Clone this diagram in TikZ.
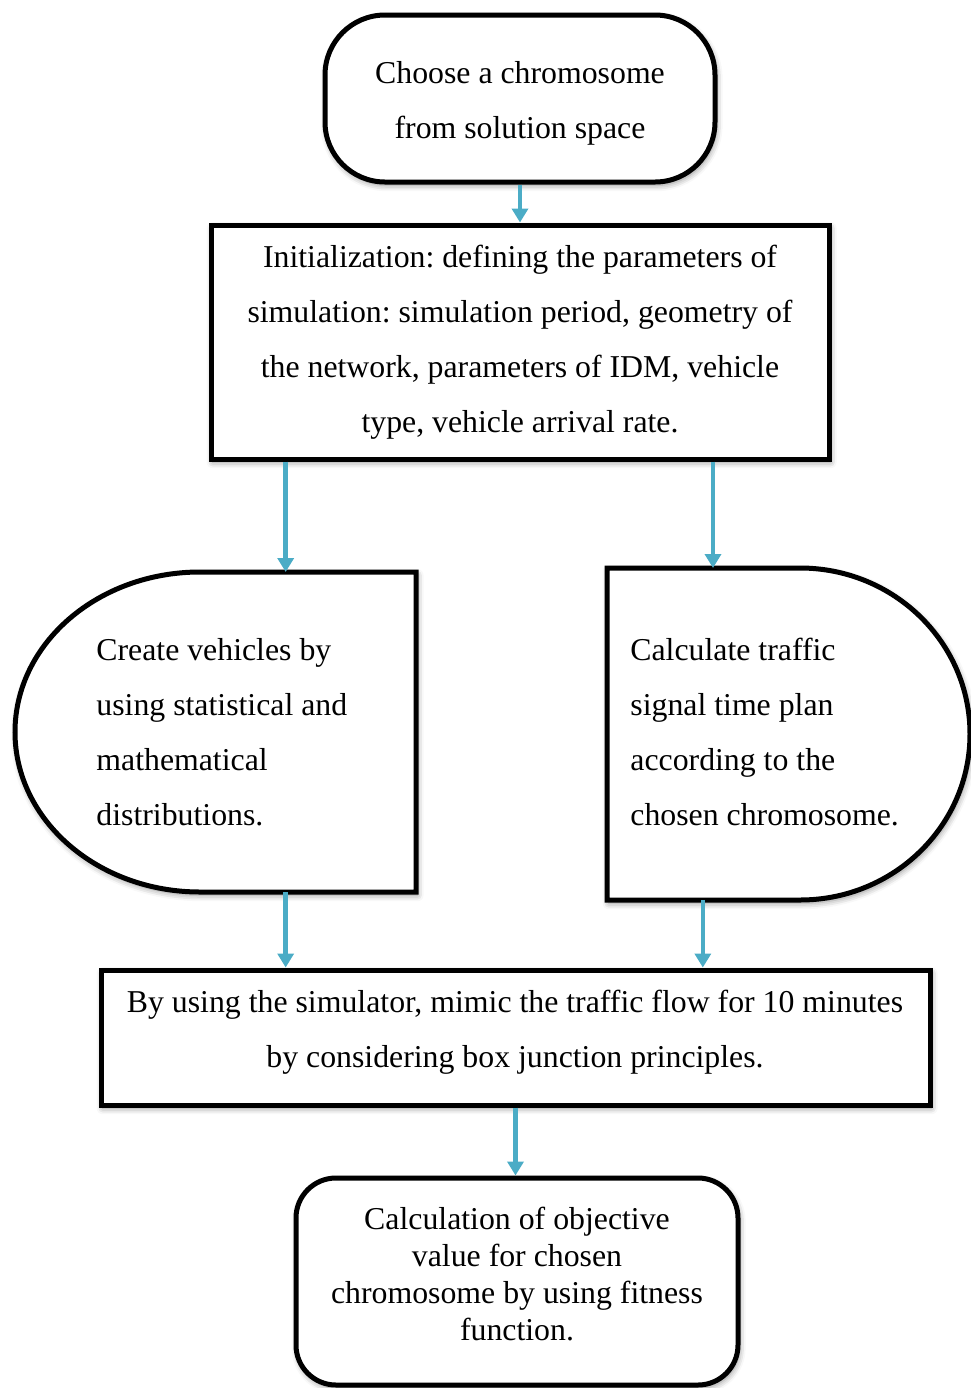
\documentclass[tikz,border=0pt]{standalone}
\usepackage{fontspec}
\setmainfont{Liberation Serif}
\usetikzlibrary{arrows.meta,calc,shadows.blur}
\definecolor{flowblue}{HTML}{4BACC6}
\frenchspacing
\tikzset{
  softshadow/.style={blur shadow={shadow xshift=0.8pt, shadow yshift=-1.6pt,
      shadow blur radius=3pt, shadow opacity=45}},
  boxline/.style={draw=black, line width=2.5pt, fill=white, softshadow},
  plainbox/.style={boxline, rectangle, inner sep=0pt},
  termbox/.style={boxline, rectangle, rounded corners=30pt, inner sep=0pt},
  endbox/.style={boxline, rectangle, rounded corners=20pt, inner sep=0pt},
  ghost/.style={rectangle, inner sep=0pt, outer sep=0pt},
  bodytext/.style={font=\fontsize{15.9pt}{27.5pt}\selectfont, inner sep=0pt},
  tighttext/.style={font=\fontsize{15.9pt}{18.5pt}\selectfont, inner sep=0pt},
  flowarrow/.style={draw=flowblue, line width=2.2pt,
      -{Triangle[width=8pt,length=7pt]}},
}
\begin{document}
\begin{tikzpicture}[x=0.5pt, y=-0.5pt]
  \useasboundingbox (0,0) rectangle (970,1388);

  % start terminator
  \node[termbox, minimum width=195pt, minimum height=83.5pt] (start) at (520,98.5) {};
  \node[bodytext, align=center] (starttext) at (520,103)
    {Choose a chromosome\\from solution space};

  % initialization step
  \node[plainbox, bodytext, align=center, minimum width=309pt, minimum height=117pt]
    (init) at (520,342) {Initialization: defining the parameters of\\
      simulation: simulation period, geometry of\\
      the network, parameters of IDM, vehicle\\
      type, vehicle arrival rate.};

  % left branch: vehicle generation (rounded on the left)
  \node[ghost, minimum width=200.5pt, minimum height=160pt] (veh) at (215.5,732) {};
  \draw[boxline] (veh.north east) -- (veh.south east) -- (200,892)
    arc[start angle=90, end angle=270, x radius=185, y radius=160] -- cycle;
  \node[bodytext, align=left, anchor=west] (vehtext) at (96,732.5)
    {Create vehicles by\\using statistical and\\mathematical\\distributions.};

  % right branch: signal plan (rounded on the right)
  \node[ghost, minimum width=181.5pt, minimum height=166pt] (sig) at (788.5,734) {};
  \draw[boxline] (sig.south west) -- (sig.north west) -- (800,568)
    arc[start angle=-90, end angle=90, x radius=170, y radius=166] -- cycle;
  \node[bodytext, align=left, anchor=west] (sigtext) at (630,732)
    {Calculate traffic\\signal time plan\\according to the\\chosen chromosome.};

  % simulation step
  \node[plainbox, minimum width=414.5pt, minimum height=67.5pt] (sim) at (515.5,1037.5) {};
  \node[bodytext, align=center] (simtext) at (515,1032.5)
    {By using the simulator, mimic the traffic flow for 10 minutes\\
     by considering box junction principles.};

  % objective value
  \node[endbox, minimum width=221pt, minimum height=103.5pt] (obj) at (517,1281.5) {};
  \node[tighttext, align=center] (objtext) at (517,1274.5)
    {Calculation of objective\\value for chosen\\chromosome by using fitness\\function.};

  % connector positions on the branch boxes
  \coordinate (vehin)  at ($(veh.north west)!0.675!(veh.north east)$);
  \coordinate (sigin)  at ($(sig.north west)!0.292!(sig.north east)$);
  \coordinate (sigout) at ($(sig.south west)!0.264!(sig.south east)$);

  % connectors
  \draw[flowarrow] (start.south) -- (init.north);
  \draw[flowarrow] (init.south -| vehin) -- (vehin);
  \draw[flowarrow] (init.south -| sigin) -- (sigin);
  \draw[flowarrow] (veh.south -| vehin) -- (sim.north -| vehin);
  \draw[flowarrow] (sigout) -- (sim.north -| sigout);
  \draw[flowarrow] (sim.south) -- (obj.north -| sim.south);
\end{tikzpicture}
\end{document}
